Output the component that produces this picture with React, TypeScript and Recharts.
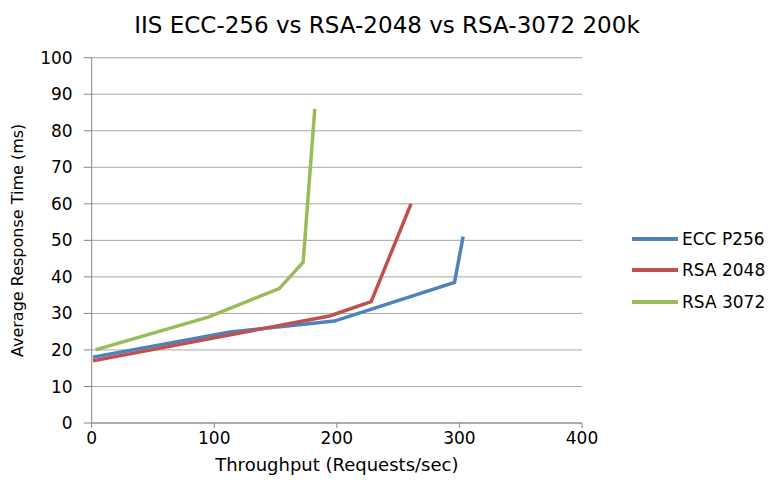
import { LineChart, Line, XAxis, YAxis, CartesianGrid } from 'recharts';

const FONT = '"DejaVu Sans", sans-serif';

const xTicks = [0, 100, 200, 300, 400];
const yTicks = [0, 10, 20, 30, 40, 50, 60, 70, 80, 90, 100];

const eccX = [1, 113, 198, 296, 303];
const eccY = [18, 24.9, 27.9, 38.5, 51];

const rsa2048X = [1, 194, 228, 260.5];
const rsa2048Y = [17, 29.3, 33.2, 60];

const rsa3072X = [3, 95, 153, 172.5, 182];
const rsa3072Y = [20, 29, 36.8, 44, 86];

const series = [
  { name: 'ECC P256', color: '#4F81BD', xs: eccX, ys: eccY },
  { name: 'RSA 2048', color: '#C0504D', xs: rsa2048X, ys: rsa2048Y },
  { name: 'RSA 3072', color: '#9BBB59', xs: rsa3072X, ys: rsa3072Y },
];

function toPoints(xs: number[], ys: number[]) {
  return xs.map((x, i) => ({ x, y: ys[i] }));
}

function LegendBox() {
  return (
    <div style={{ position: 'absolute', left: 632, top: 223, fontFamily: FONT, fontSize: 17, color: '#000' }}>
      {series.map((s) => (
        <div key={s.name} style={{ display: 'flex', alignItems: 'center', height: 31.5 }}>
          <span style={{ width: 46, height: 4, background: s.color, marginRight: 4 }} />
          {s.name}
        </div>
      ))}
    </div>
  );
}

export default function App() {
  return (
    <div style={{ width: 774, height: 485, background: '#fff', position: 'relative' }}>
      <style>{'body{margin:0}'}</style>
      <div
        style={{
          position: 'absolute',
          top: 12,
          left: 0,
          width: 774,
          textAlign: 'center',
          fontFamily: FONT,
          fontSize: 23,
          color: '#000',
        }}
      >
        IIS ECC-256 vs RSA-2048 vs RSA-3072 200k
      </div>
      <LineChart width={774} height={485} margin={{ top: 57.7, right: 192, bottom: 2, left: 0 }}>
        <CartesianGrid horizontal vertical={false} stroke="#a6a6a6" />
        <XAxis
          type="number"
          dataKey="x"
          domain={[0, 400]}
          ticks={xTicks}
          height={60}
          stroke="#868686"
          tickSize={5}
          tickMargin={4}
          tick={{ fill: '#000', fontSize: 17, fontFamily: FONT }}
          label={{
            value: 'Throughput (Requests/sec)',
            position: 'insideBottom',
            offset: 12,
            fill: '#000',
            fontSize: 18,
            fontFamily: FONT,
          }}
        />
        <YAxis
          type="number"
          dataKey="y"
          domain={[0, 100]}
          ticks={yTicks}
          width={91.7}
          stroke="#868686"
          tickSize={8}
          tickMargin={11}
          tick={{ fill: '#000', fontSize: 17, fontFamily: FONT }}
          label={{
            value: 'Average Response Time (ms)',
            angle: -90,
            position: 'insideLeft',
            offset: 17,
            fill: '#000',
            fontSize: 16,
            fontFamily: FONT,
            style: { textAnchor: 'middle' },
          }}
        />
        {series.map((s) => (
          <Line
            key={s.name}
            data={toPoints(s.xs, s.ys)}
            dataKey="y"
            name={s.name}
            type="linear"
            stroke={s.color}
            strokeWidth={3.5}
            dot={false}
            isAnimationActive={false}
          />
        ))}
      </LineChart>
      <LegendBox />
    </div>
  );
}
